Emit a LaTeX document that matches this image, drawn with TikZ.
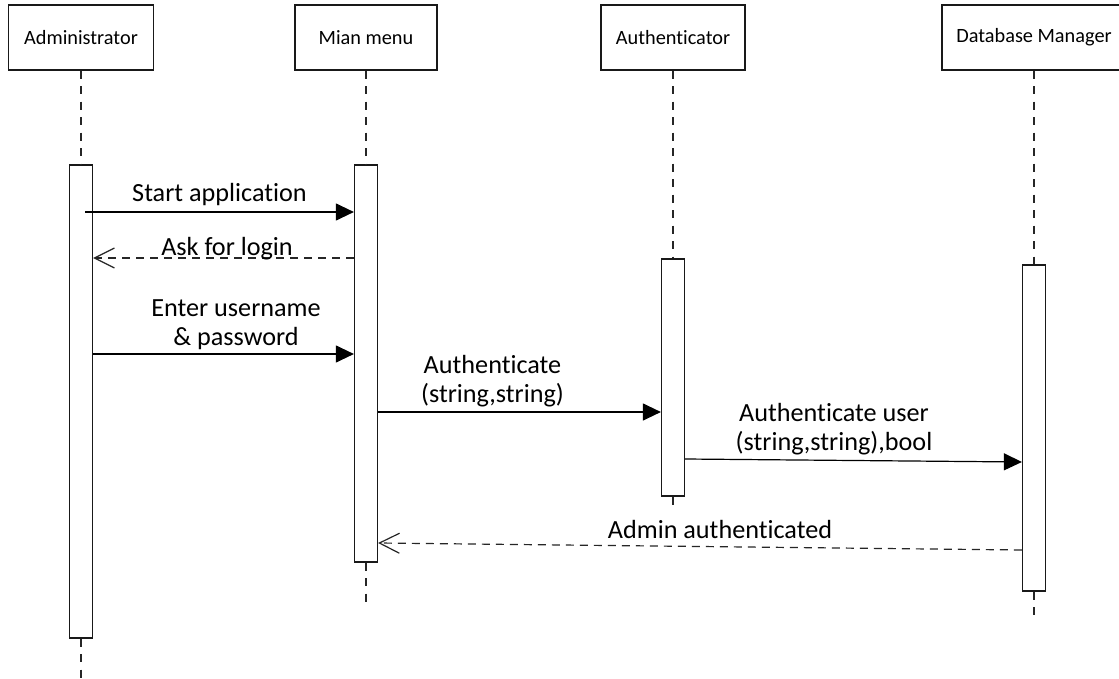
\documentclass[tikz,border=0pt]{standalone}
\usepackage{fontspec}
\setmainfont{Carlito}[Ligatures=NoCommon]
\usetikzlibrary{arrows.meta}
\begin{document}
\begin{tikzpicture}[x=1pt,y=-1pt,
  every node/.style={inner sep=0pt},
  head/.style={draw=black!90, line width=1.2pt, fill=white, minimum height=65pt,
    font=\fontsize{20.3}{24}\selectfont},
  bar/.style={draw=black!90, line width=1.2pt, fill=white, minimum width=23pt},
  life/.style={draw=black!85, line width=1.2pt, dash pattern=on 8pt off 7.5pt},
  call/.style={draw=black, line width=1.2pt, -{Triangle[length=18pt,width=17pt]}},
  reply/.style={draw=black!85, line width=1.2pt, dash pattern=on 8pt off 6pt,
    -{Straight Barb[length=20pt,width=20pt,line width=1.2pt]}},
  msg/.style={font=\fontsize{26.2}{29}\selectfont, align=center, anchor=base}]

\useasboundingbox (0,0) rectangle (1119,679);
\fill[white] (0,0) rectangle (1119,679);
\clip (0,0) rectangle (1119,679);

% participants
\node[head, minimum width=145pt] (hA)  at (81,37.5)   {Administrator};
\node[head, minimum width=142pt] (hM)  at (366,37.5)  {Mian menu};
\node[head, minimum width=144pt] (hAu) at (673,37.5)  {Authenticator};
\node[head, minimum width=184pt] (hD)  at (1034,37.5) {Database Manager};

% activation bars
\node[bar, minimum height=473pt] (bA)  at (81,401.5)  {};
\node[bar, minimum height=397pt] (bM)  at (366,363.5) {};
\node[bar, minimum height=237pt] (bAu) at (673,377.5) {};
\node[bar, minimum height=326pt] (bD)  at (1034,428)  {};

% lifeline ends
\coordinate (eA)  at (81,679);
\coordinate (eM)  at (366,602);
\coordinate (eAu) at (673,507);
\coordinate (eD)  at (1034,620);

% lifelines
\draw[life] (hA.south)  -- (bA.north);
\draw[life] (bA.south)  -- (eA);
\draw[life] (hM.south)  -- (bM.north);
\draw[life] (bM.south)  -- (eM);
\draw[life] (hAu.south) -- (bAu.north);
\draw[life] (bAu.south) -- (eAu);
\draw[life] (hD.south)  -- (bD.north);
\draw[life] (bD.south)  -- (eD);

% message levels
\coordinate (s1) at (85,212);
\coordinate (y2) at (0,258);
\coordinate (y3) at (0,354);
\coordinate (y4) at (0,412);
\coordinate (y5a) at (0,459);
\coordinate (y5b) at (0,462);
\coordinate (y6a) at (0,550);
\coordinate (y6b) at (0,543);

% messages
\draw[call]  (s1) -- (bM.west |- s1);
\draw[reply] (bM.west |- y2) -- (bA.east |- y2);
\draw[call]  (bA.east |- y3) -- (bM.west |- y3);
\draw[call]  (bM.east |- y4) -- (bAu.west |- y4);
\draw[call]  (bAu.east |- y5a) -- (bD.west |- y5b);
\draw[reply] (bD.west |- y6a) -- (bM.east |- y6b);

% message labels (base = baseline of the last line)
\node[msg] (t1) at (219.5,202) {Start application};
\node[msg] (t2) at (227,255)   {Ask for login};
\node[msg] (t3) at (236,345)   {Enter username\\\& password};
\node[msg] (t4) at (492.5,402) {Authenticate\\(string,string)};
\node[msg] (t5) at (834,450)   {Authenticate user\\(string,string),bool};
\node[msg] (t6) at (720,538)   {Admin authenticated};
\end{tikzpicture}
\end{document}
